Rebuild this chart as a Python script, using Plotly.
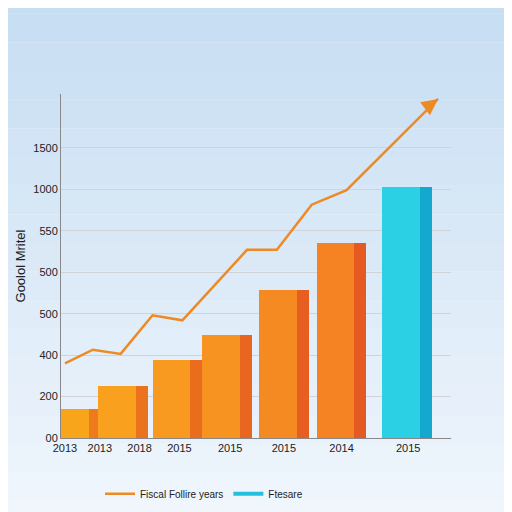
import plotly.graph_objects as go

x_labels = ["2013", "2013", "2018", "2015", "2015", "2015", "2014", "2015"]
x_label_pos = [62, 97, 137, 177, 228, 282, 340, 407]
y_tick_text = ["00", "200", "400", "500", "500", "550", "1000", "1500"]
bar_x = [73, 120, 175, 225, 282, 340, 406]
bar_h = [0.71, 1.25, 1.89, 2.48, 3.57, 4.70, 6.05]
line_x = [62, 90, 118, 150, 180, 245, 275, 310, 345, 437]
line_y = [1.80, 2.13, 2.03, 2.96, 2.84, 4.54, 4.54, 5.63, 5.98, 8.18]

front = ["#f9a51c", "#f9a01e", "#f89a20", "#f79321", "#f68a22", "#f58324", "#2cd0e4"]
side = ["#ee7a1c", "#ec731d", "#ea6d1e", "#e8661f", "#e65f20", "#e45a22", "#14a8d0"]

fig = go.Figure()
n = 24
for i in range(n):
    t = i / (n - 1)
    r = int(196 + (250 - 196) * t)
    g = int(220 + (252 - 220) * t)
    b = int(242 + (255 - 242) * t)
    fig.add_shape(type="rect", xref="paper", yref="paper", x0=-0.5, x1=1.5,
                  y0=1.4 - (i + 1) * 2.0 / n, y1=1.4 - i * 2.0 / n,
                  fillcolor=f"rgb({r},{g},{b})", line_width=0, layer="below")

fig.add_trace(go.Bar(x=[v + 19 for v in bar_x], y=bar_h, width=12, marker_color=side,
                     marker_line_width=0, showlegend=False))
fig.add_trace(go.Bar(x=[v - 6 for v in bar_x], y=bar_h, width=38, marker_color=front,
                     marker_line_width=0, showlegend=False))
fig.add_trace(go.Scatter(x=line_x, y=line_y, mode="lines", line=dict(color="#ee8a24", width=2.5),
                         name="Fiscal Follire years"))
fig.add_annotation(x=line_x[-1], y=line_y[-1], ax=-12, ay=9, xref="x", yref="y", showarrow=True,
                   arrowhead=2, arrowsize=1.3, arrowwidth=2.5, arrowcolor="#ee8a24", text="")
fig.add_trace(go.Scatter(x=[None], y=[None], mode="lines", line=dict(color="#22c0dc", width=4),
                         name="Ftesare"))

fig.update_layout(
    width=512, height=512, margin=dict(l=51, r=69, t=86, b=58),
    paper_bgcolor="#eef6fc", plot_bgcolor="rgba(0,0,0,0)", barmode="overlay", bargap=0,
    font=dict(family="Liberation Sans", color="#222", size=11),
    xaxis=dict(range=[58, 450], tickvals=x_label_pos, ticktext=x_labels, showgrid=False,
               zeroline=False, showline=True, linecolor="#888", ticks=""),
    yaxis=dict(range=[0, 8.3], tickvals=list(range(8)), ticktext=y_tick_text, gridcolor="#d0d4d8",
               zeroline=False, showline=True, linecolor="#888",
               title=dict(text="Goolol Mritel", font=dict(size=13), standoff=4)),
    legend=dict(orientation="h", x=0.1, y=-0.12, bgcolor="rgba(0,0,0,0)", font=dict(size=10)),
)
fig.write_html("out.html")
